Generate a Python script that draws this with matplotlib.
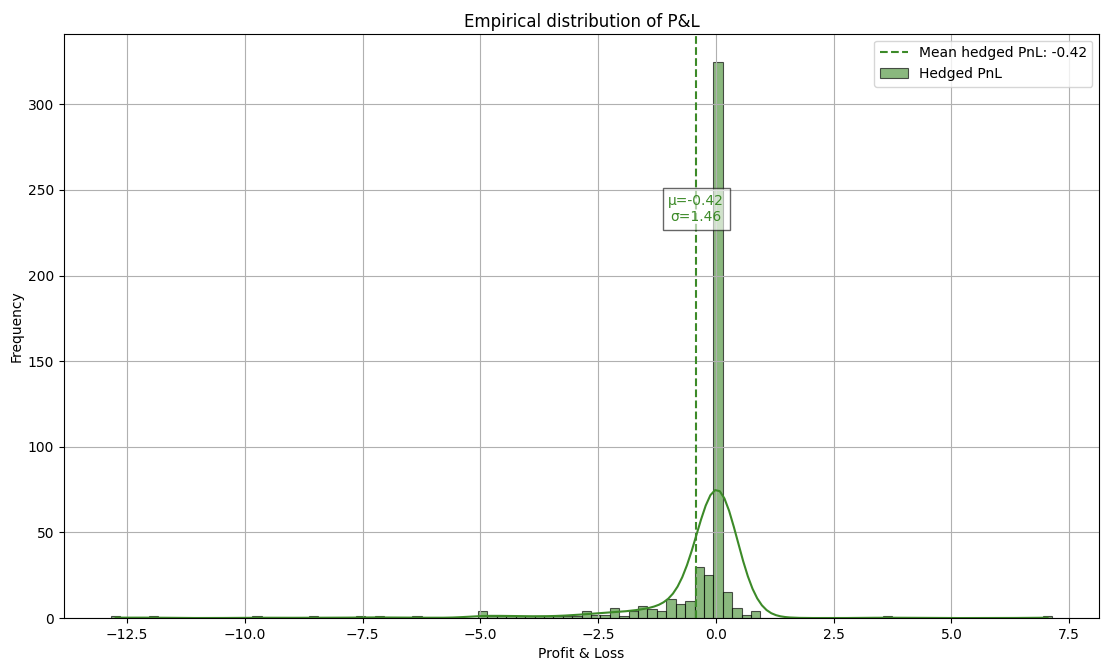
import numpy as np
import matplotlib
matplotlib.use("Agg")
import matplotlib.pyplot as plt
import matplotlib.transforms as mtransforms
import seaborn as sns

# Histogram layout of the hedged P&L sample
pnl_min = -12.84
pnl_max = 7.14
n_bins = 100

# Non-empty bins (index into the 100 bins) and their counts
bin_idx = [0, 4, 15, 21, 26, 28, 32,
           39, 40, 41, 42, 43, 44, 45, 46, 47, 48, 49,
           50, 51, 52, 53, 54, 55, 56, 57, 58, 59,
           60, 61, 62, 63, 64, 65, 66, 67, 68,
           82, 99]
bin_cnt = [1, 1, 1, 1, 1, 1, 1,
           4, 1, 1, 1, 1, 1, 1, 1, 1, 1, 1,
           4, 2, 2, 6, 1, 4, 7, 5, 4, 11,
           8, 10, 30, 25, 325, 15, 6, 2, 4,
           1, 1]

# Summary statistics shown on the chart
mean_pnl = -0.42
std_pnl = 1.46

green = "#3c8a28"

edges = np.linspace(pnl_min, pnl_max, n_bins + 1)
centers = 0.5 * (edges[:-1] + edges[1:])
counts = np.zeros(n_bins, dtype=int)
counts[bin_idx] = bin_cnt
hedged_pnl = np.repeat(centers, counts)

fig, ax = plt.subplots(figsize=(11.01, 6.61), dpi=100)
fig.subplots_adjust(left=0.058, right=0.9985, bottom=0.065, top=0.949)

sns.histplot(hedged_pnl, bins=edges, kde=True, color=green, alpha=0.6,
             edgecolor=(0, 0, 0, 0.65), linewidth=0.8, label="Hedged PnL", ax=ax)
ax.axvline(mean_pnl, color=green, linestyle="--", linewidth=1.5,
           label=f"Mean hedged PnL: {mean_pnl:.2f}")

# stats box sits on the mean line, 70% up the axes
trans = mtransforms.blended_transform_factory(ax.transData, ax.transAxes)
ax.text(mean_pnl, 0.7, f"\u03bc={mean_pnl:.2f}\n\u03c3={std_pnl:.2f}",
        transform=trans, ha="center", va="center", color=green, fontsize=10,
        bbox=dict(facecolor="white", alpha=0.6, edgecolor="black"))

ax.set_title("Empirical distribution of P&L", pad=5)
ax.set_xlabel("Profit & Loss")
ax.set_ylabel("Frequency", labelpad=3)
ax.grid(True)
ax.legend(loc="upper right")

fig.savefig("out.png", dpi=100)
